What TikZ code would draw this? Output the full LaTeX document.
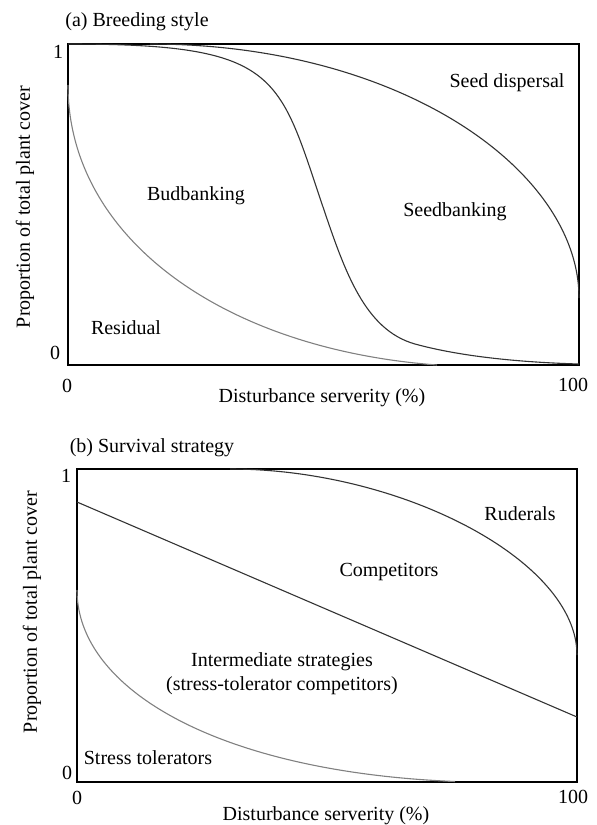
\documentclass[tikz,border=0pt]{standalone}
\usepackage{fontspec}
\setmainfont{Liberation Serif}
\usepackage{tikz}

\begin{document}
\begin{tikzpicture}[x=1pt,y=-1pt,
  lbl/.style={font=\fontsize{20}{24}\selectfont, inner sep=0pt},
  frame/.style={line width=1.8pt},
  curve/.style={line width=1.1pt, black!80},
  pale/.style={line width=1.1pt, black!50}]
\useasboundingbox (0,0) rectangle (597,825);

	% (a) breeding style
	\node[lbl] (titleA) at (137,22) {(a) Breeding style};
	\draw[frame] (68,44) rectangle (579,365);
	\draw[pale] (68,85) .. controls (68,237) and (222,349) .. (437,365);
	\draw[curve] (68,44) .. controls (280,44) and (278,74) .. (323,207)
		.. controls (345,272) and (365,330) .. (415,344)
		.. controls (455,355) and (510,362) .. (579,364);
	\draw[curve] (150,44) .. controls (400,44) and (579,170) .. (579,298);
	\node[lbl] (dispA) at (507,83) {Seed dispersal};
	\node[lbl] (budA) at (196,196) {Budbanking};
	\node[lbl] (bankA) at (455,212) {Seedbanking};
	\node[lbl] (resA) at (126,328) {Residual};
	\node[lbl] (oneA) at (58,52) {1};
	\node[lbl] (zeroA) at (55,353) {0};
	\node[lbl] (xminA) at (67,386) {0};
	\node[lbl] (xmaxA) at (573,385) {100};
	\node[lbl] (xlabA) at (322,398) {Disturbance serverity (\%)};
	\node[lbl, rotate=90] (ylabA) at (25,207) {Proportion of total plant cover};

	% (b) survival strategy
	\node[lbl] (titleB) at (152,448) {(b) Survival strategy};
	\draw[frame] (77,469) rectangle (577,782);
	\draw[curve] (77,502) -- (577,717);
	\draw[curve] (230,469) .. controls (400,469) and (577,560) .. (577,655);
	\draw[pale] (77,590) .. controls (77,690) and (220,772) .. (455,781.5);
	\node[lbl] (rudB) at (520,514) {Ruderals};
	\node[lbl] (compB) at (389,572) {Competitors};
	\node[lbl] (midB) at (282,662) {Intermediate strategies};
	\node[lbl] (midsubB) at (282,686) {(stress-tolerator competitors)};
	\node[lbl] (stressB) at (148,758) {Stress tolerators};
	\node[lbl] (oneB) at (66,476) {1};
	\node[lbl] (zeroB) at (67,773) {0};
	\node[lbl] (xminB) at (77,798) {0};
	\node[lbl] (xmaxB) at (573,797) {100};
	\node[lbl] (xlabB) at (326,816) {Disturbance serverity (\%)};
	\node[lbl, rotate=90] (ylabB) at (32,612) {Proportion of total plant cover};
\end{tikzpicture}
\end{document}
